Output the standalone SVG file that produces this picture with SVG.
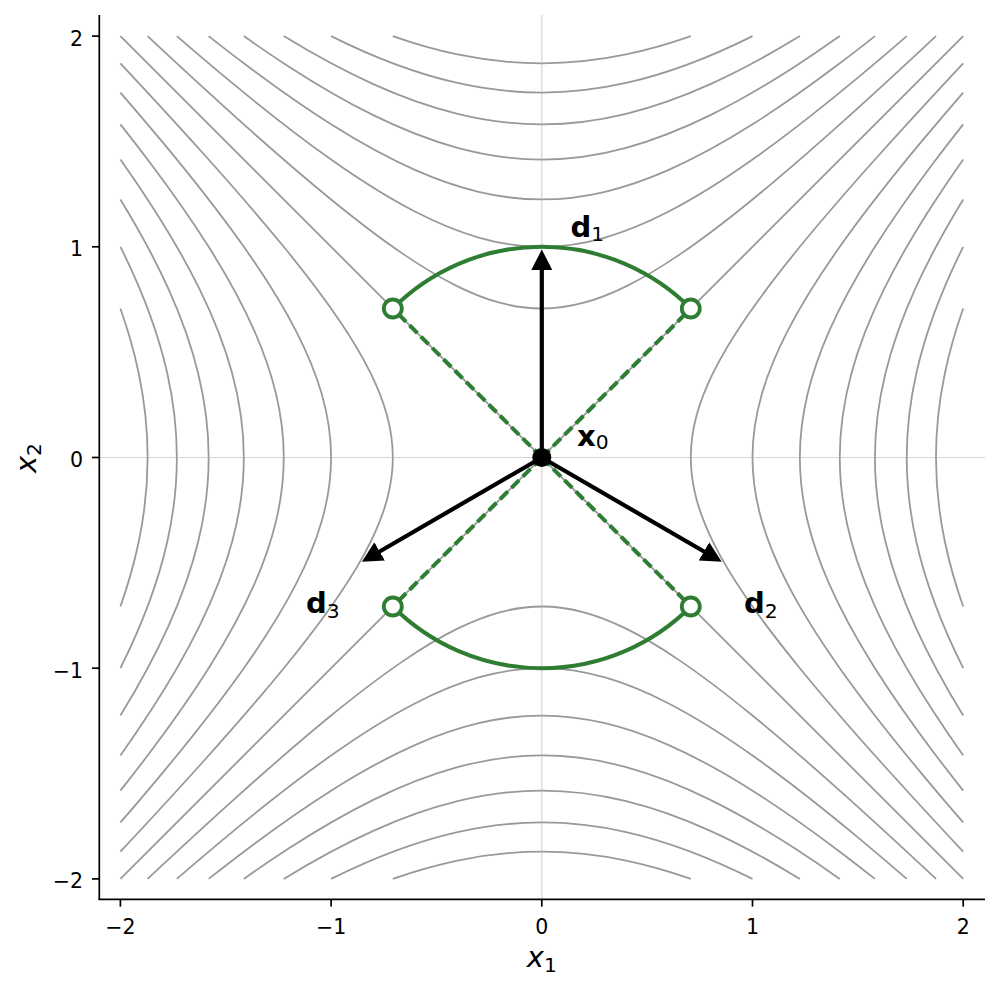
<svg xmlns="http://www.w3.org/2000/svg" xmlns:xlink="http://www.w3.org/1999/xlink" width="1000" height="990" viewBox="0 0 1000 990">
<style>
.ct{fill:none;stroke:#999999;stroke-width:1.8;stroke-linejoin:round}
.grid{stroke:#d4d4d4;stroke-width:1.2}
.spine{stroke:#000;stroke-width:1.7;fill:none}
.tick{stroke:#000;stroke-width:1.7}
.tl{font-family:"DejaVu Sans","Liberation Sans",sans-serif;font-size:20.5px;fill:#000}
.al{font-family:"DejaVu Sans","Liberation Sans",sans-serif;font-size:29px;fill:#000}
.lb{font-family:"DejaVu Sans","Liberation Sans",sans-serif;font-size:29px;fill:#000}
.green{stroke:#2e7d32;stroke-width:4;fill:none}
.dash{stroke:#2e7d32;stroke-width:4;stroke-dasharray:11 5;fill:none}
.pt{stroke:#2e7d32;stroke-width:3.8;fill:#fff}
.arr{stroke:#000;stroke-width:4.2;fill:none}
</style>
<defs>
<marker id="ah" markerUnits="userSpaceOnUse" markerWidth="24" markerHeight="24" viewBox="0 -12 24 24" refX="0.5" refY="0" orient="auto">
<path d="M0,-10.5 L20.5,0 L0,10.5 Z" fill="#000"/>
</marker>
<g id="h">
<path vector-effect="non-scaling-stroke" d="M0.7071,0 C0.7071,0.0667 0.7167,0.1333 0.7348,0.2 C0.753,0.2667 0.7796,0.3333 0.8124,0.4 C0.8534,0.4833 0.9041,0.5667 0.9605,0.65 C1.0395,0.7667 1.1294,0.8833 1.2247,1 C1.3472,1.15 1.4784,1.3 1.6132,1.45 C1.7393,1.5903 1.8688,1.7305 2,1.8708"/>
<path vector-effect="non-scaling-stroke" d="M1,0 C1,0.1 1.0153,0.2 1.044,0.3 C1.0727,0.4 1.1148,0.5 1.1662,0.6 C1.2348,0.7333 1.3199,0.8667 1.4142,1 C1.5321,1.1667 1.6641,1.3333 1.8028,1.5 C1.8672,1.5774 1.933,1.6547 2,1.7321"/>
<path vector-effect="non-scaling-stroke" d="M1.2247,0 C1.2247,0.1 1.2372,0.2 1.261,0.3 C1.2848,0.4 1.3198,0.5 1.3638,0.6 C1.4225,0.7333 1.4968,0.8667 1.5811,1 C1.6654,1.1333 1.7597,1.2667 1.8601,1.4 C1.9055,1.4604 1.9523,1.5207 2,1.5811"/>
<path vector-effect="non-scaling-stroke" d="M1.4142,0 C1.4142,0.1333 1.4334,0.2667 1.4697,0.4 C1.506,0.5333 1.5592,0.6667 1.6248,0.8 C1.6905,0.9333 1.7684,1.0667 1.8547,1.2 C1.9009,1.2714 1.9495,1.3428 2,1.4142"/>
<path vector-effect="non-scaling-stroke" d="M1.5811,0 C1.5811,0.1333 1.5983,0.2667 1.631,0.4 C1.6637,0.5333 1.7118,0.6667 1.772,0.8 C1.8359,0.9416 1.9133,1.0831 2,1.2247"/>
<path vector-effect="non-scaling-stroke" d="M1.7321,0 C1.7321,0.1333 1.7476,0.2667 1.7776,0.4 C1.8226,0.6 1.9,0.8 2,1"/>
<path vector-effect="non-scaling-stroke" d="M1.8708,0 C1.8708,0.1333 1.8852,0.2667 1.9131,0.4 C1.9345,0.5024 1.9638,0.6047 2,0.7071"/>
</g>
<g id="br">
<use xlink:href="#h"/>
<use xlink:href="#h" transform="scale(1 -1)"/>
</g>
</defs>
<rect width="1000" height="990" fill="#fff"/>

<g id="grid">
<line class="grid" x1="541.8" y1="15" x2="541.8" y2="899.3"/>
<line class="grid" x1="99.3" y1="457.5" x2="985" y2="457.5"/>
</g>

<g id="contours" class="ct" transform="translate(541.8 457.5) scale(210.7 -210.7)">
<use xlink:href="#br"/>
<use xlink:href="#br" transform="scale(-1 1)"/>
<use xlink:href="#br" transform="matrix(0 1 1 0 0 0)"/>
<use xlink:href="#br" transform="matrix(0 -1 1 0 0 0)"/>
<line vector-effect="non-scaling-stroke" x1="-2" y1="-2" x2="2" y2="2"/>
<line vector-effect="non-scaling-stroke" x1="-2" y1="2" x2="2" y2="-2"/>
</g>

<g id="axes">
<line class="spine" x1="99.3" y1="15" x2="99.3" y2="900.1"/>
<line class="spine" x1="98.5" y1="899.3" x2="985" y2="899.3"/>
<g id="xticks">
<line class="tick" x1="120.4" y1="899.3" x2="120.4" y2="906.6"/>
<line class="tick" x1="331.1" y1="899.3" x2="331.1" y2="906.6"/>
<line class="tick" x1="541.8" y1="899.3" x2="541.8" y2="906.6"/>
<line class="tick" x1="752.5" y1="899.3" x2="752.5" y2="906.6"/>
<line class="tick" x1="963.2" y1="899.3" x2="963.2" y2="906.6"/>
<text class="tl" x="120.4" y="934" text-anchor="middle">−2</text>
<text class="tl" x="331.1" y="934" text-anchor="middle">−1</text>
<text class="tl" x="541.8" y="934" text-anchor="middle">0</text>
<text class="tl" x="752.5" y="934" text-anchor="middle">1</text>
<text class="tl" x="963.2" y="934" text-anchor="middle">2</text>
</g>
<g id="yticks">
<line class="tick" x1="92" y1="36.1" x2="99.3" y2="36.1"/>
<line class="tick" x1="92" y1="246.8" x2="99.3" y2="246.8"/>
<line class="tick" x1="92" y1="457.5" x2="99.3" y2="457.5"/>
<line class="tick" x1="92" y1="668.2" x2="99.3" y2="668.2"/>
<line class="tick" x1="92" y1="878.9" x2="99.3" y2="878.9"/>
<text class="tl" x="83" y="45.6" text-anchor="end">2</text>
<text class="tl" x="83" y="256.3" text-anchor="end">1</text>
<text class="tl" x="83" y="467" text-anchor="end">0</text>
<text class="tl" x="83" y="677.7" text-anchor="end">−1</text>
<text class="tl" x="83" y="888.4" text-anchor="end">−2</text>
</g>
<text id="xlabel" class="al" x="541.8" y="967" text-anchor="middle"><tspan font-style="italic">x</tspan><tspan font-size="20.3" dy="5">1</tspan></text>
<text id="ylabel" class="al" transform="translate(36 458) rotate(-90)" text-anchor="middle"><tspan font-style="italic">x</tspan><tspan font-size="20.3" dy="5">2</tspan></text>
</g>

<g id="arcs">
<path class="green" d="M392.8 308.5 A210.7 210.7 0 0 1 690.8 308.5"/>
<path class="green" d="M392.8 606.5 A210.7 210.7 0 0 0 690.8 606.5"/>
</g>

<g id="connectors">
<line class="dash" x1="541.8" y1="457.5" x2="392.8" y2="308.5"/>
<line class="dash" x1="541.8" y1="457.5" x2="690.8" y2="308.5"/>
<line class="dash" x1="541.8" y1="457.5" x2="392.8" y2="606.5"/>
<line class="dash" x1="541.8" y1="457.5" x2="690.8" y2="606.5"/>
<line class="arr" x1="541.8" y1="457.5" x2="541.8" y2="269.5" marker-end="url(#ah)"/>
<line class="arr" x1="541.8" y1="457.5" x2="704.4" y2="551.7" marker-end="url(#ah)"/>
<line class="arr" x1="541.8" y1="457.5" x2="379.2" y2="551.7" marker-end="url(#ah)"/>
</g>

<g id="p1"><circle class="pt" cx="392.8" cy="308.5" r="9"/></g>
<g id="p2"><circle class="pt" cx="690.8" cy="308.5" r="9"/></g>
<g id="p3"><circle class="pt" cx="392.8" cy="606.5" r="9"/></g>
<g id="p4"><circle class="pt" cx="690.8" cy="606.5" r="9"/></g>
<g id="x0"><circle cx="541.8" cy="457.5" r="9.5" fill="#000"/>
<text class="lb" x="577" y="446"><tspan font-weight="bold">x</tspan><tspan font-size="20.3" dy="2.5">0</tspan></text></g>
<g id="d1"><text class="lb" x="570.5" y="236.5"><tspan font-weight="bold">d</tspan><tspan font-size="20.3" dy="4.5">1</tspan></text></g>
<g id="d2"><text class="lb" x="744" y="613"><tspan font-weight="bold">d</tspan><tspan font-size="20.3" dy="5">2</tspan></text></g>
<g id="d3"><text class="lb" x="306" y="613"><tspan font-weight="bold">d</tspan><tspan font-size="20.3" dy="5">3</tspan></text></g>
</svg>
